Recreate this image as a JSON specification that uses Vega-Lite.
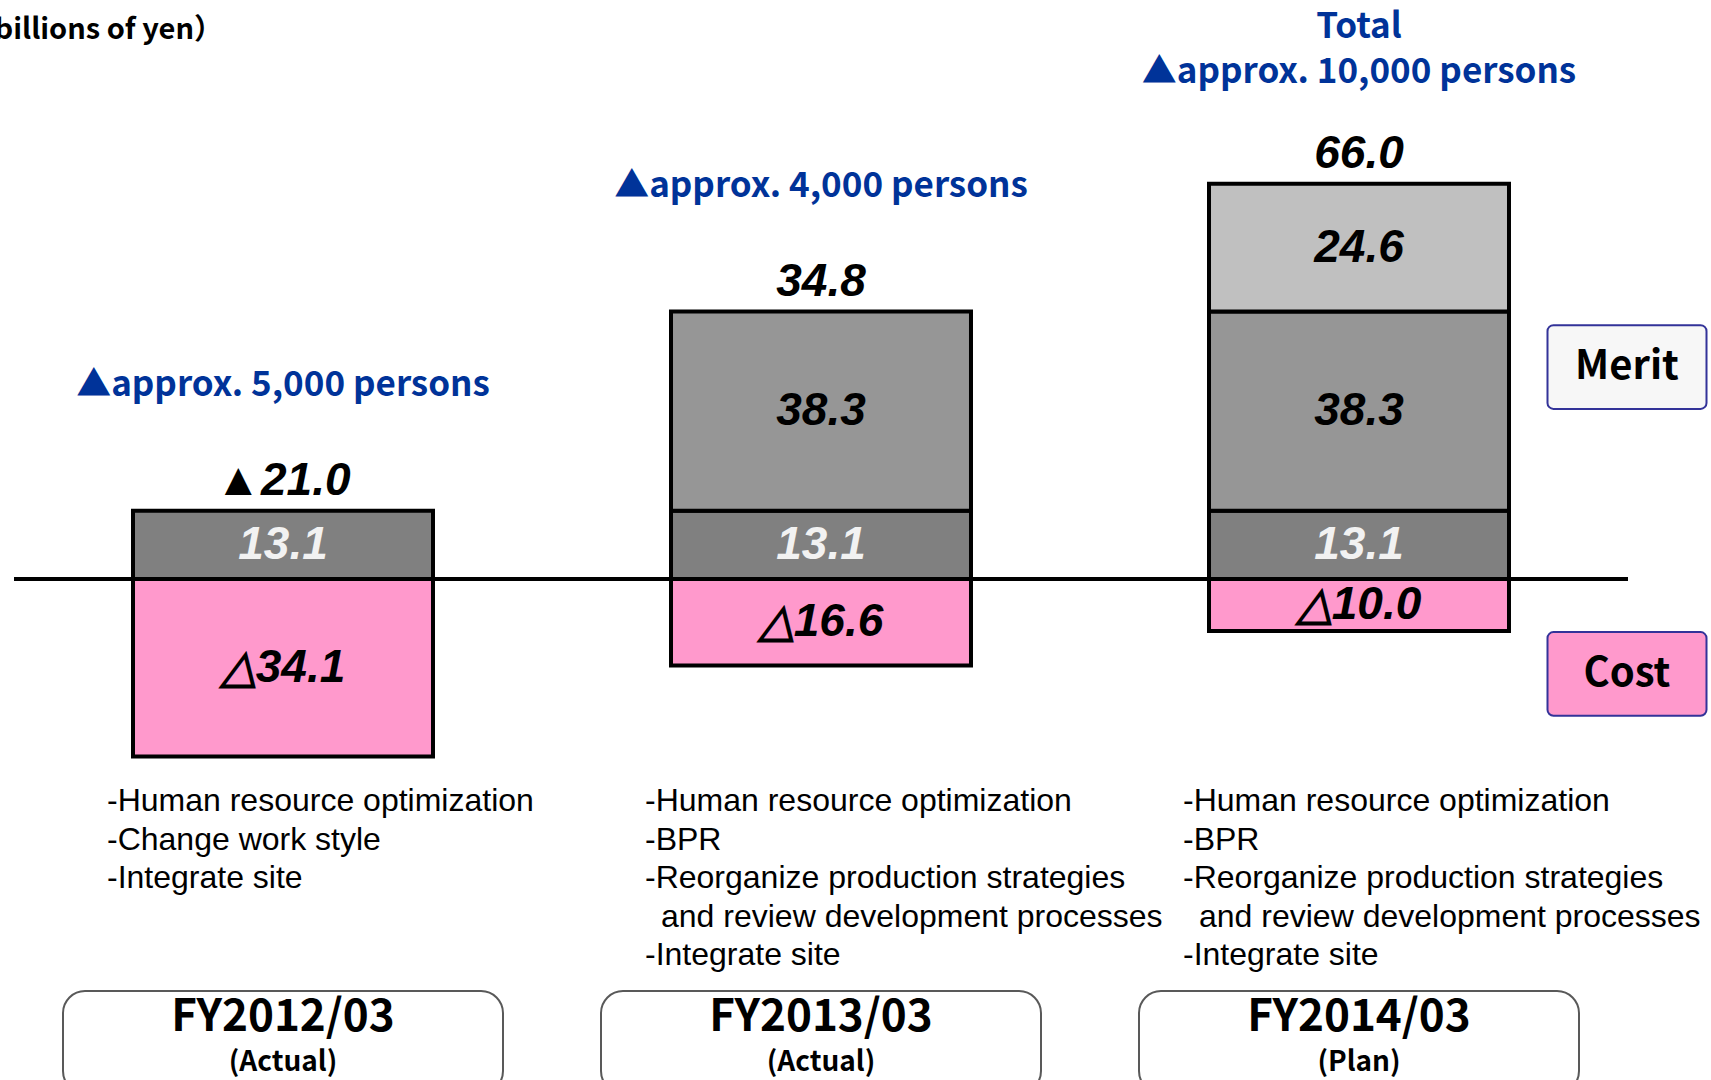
{
  "$schema": "https://vega.github.io/schema/vega-lite/v6.json",
  "width": 1711,
  "height": 1080,
  "autosize": {"type": "none"},
  "padding": 0,
  "background": "white",
  "config": {"view": {"stroke": null}},
  "datasets": {
    "bars": [
      {"fy": "FY2012/03", "seg": "base", "value": 13.1, "label": "13.1"},
      {"fy": "FY2012/03", "seg": "cost", "value": -34.1, "label": "△34.1"},
      {"fy": "FY2013/03", "seg": "base", "value": 13.1, "label": "13.1"},
      {"fy": "FY2013/03", "seg": "mid", "value": 38.3, "label": "38.3"},
      {"fy": "FY2013/03", "seg": "cost", "value": -16.6, "label": "△16.6"},
      {"fy": "FY2014/03", "seg": "base", "value": 13.1, "label": "13.1"},
      {"fy": "FY2014/03", "seg": "mid", "value": 38.3, "label": "38.3"},
      {"fy": "FY2014/03", "seg": "top", "value": 24.6, "label": "24.6"},
      {"fy": "FY2014/03", "seg": "cost", "value": -10.0, "label": "△10.0"}
    ],
    "totals": [
      {"fy": "FY2012/03", "net": -21.0, "total": "▲21.0", "persons": "▲approx. 5,000 persons"},
      {"fy": "FY2013/03", "net": 34.8, "total": "34.8", "persons": "▲approx. 4,000 persons"},
      {"fy": "FY2014/03", "net": 66.0, "total": "66.0", "persons": ["Total", "▲approx. 10,000 persons"]}
    ],
    "notes": [
      {"fy": "FY2012/03", "period": "(Actual)", "desc": ["-Human resource optimization", "-Change work style", "-Integrate site"]},
      {"fy": "FY2013/03", "period": "(Actual)", "desc": ["-Human resource optimization", "-BPR", "-Reorganize production strategies", "\u200b\u2002and review development processes", "-Integrate site"]},
      {"fy": "FY2014/03", "period": "(Plan)", "desc": ["-Human resource optimization", "-BPR", "-Reorganize production strategies", "\u200b\u2002and review development processes", "-Integrate site"]}
    ],
    "one": [{"k": 1}]
  },
  "layer": [
    {
      "data": {"name": "one"},
      "mark": {"type": "rule", "color": "black", "strokeWidth": 4, "xOffset": -119, "x2Offset": 119},
      "encoding": {
        "x": {"datum": "FY2012/03", "type": "nominal", "bandPosition": 0,
          "scale": {"type": "band", "domain": ["FY2012/03", "FY2013/03", "FY2014/03"], "range": [14, 1628], "paddingInner": 0.4424, "paddingOuter": 0.2212},
          "axis": null},
        "x2": {"datum": "FY2014/03", "bandPosition": 1},
        "y": {"datum": 0, "type": "quantitative", "scale": {"domain": [-96.3, 111.3], "nice": false, "zero": false}, "axis": null}
      }
    },
    {
      "data": {"name": "bars"},
      "transform": [
        {"stack": "value", "groupby": ["fy"], "sort": [{"field": "seg", "order": "ascending"}], "as": ["v0", "v1"], "offset": "zero"}
      ],
      "mark": {"type": "bar", "stroke": "black", "strokeWidth": 4},
      "encoding": {
        "x": {"field": "fy", "type": "nominal"},
        "y": {"field": "v0", "type": "quantitative"},
        "y2": {"field": "v1"},
        "color": {"field": "seg", "type": "nominal", "legend": null,
          "scale": {"domain": ["base", "mid", "top", "cost"], "range": ["#808080", "#969696", "#c0c0c0", "#ff99cc"]}}
      }
    },
    {
      "data": {"name": "bars"},
      "transform": [
        {"stack": "value", "groupby": ["fy"], "sort": [{"field": "seg", "order": "ascending"}], "as": ["v0", "v1"], "offset": "zero"},
        {"fold": ["v0", "v1"], "as": ["edge", "v"]},
        {"aggregate": [{"op": "mean", "field": "v", "as": "mid"}], "groupby": ["fy", "seg", "label"]}
      ],
      "mark": {"type": "text", "font": "Liberation Sans", "fontSize": 46, "fontWeight": "bold", "fontStyle": "italic", "baseline": "middle", "align": "center"},
      "encoding": {
        "x": {"field": "fy", "type": "nominal"},
        "y": {"field": "mid", "type": "quantitative"},
        "text": {"field": "label"},
        "color": {"condition": {"test": "datum.seg === 'base'", "value": "#f2f2f2"}, "value": "black"}
      }
    },
    {
      "data": {"name": "bars"},
      "transform": [
        {"filter": "datum.value > 0"},
        {"aggregate": [{"op": "sum", "field": "value", "as": "pos"}], "groupby": ["fy"]},
        {"lookup": "fy", "from": {"data": {"name": "totals"}, "key": "fy", "fields": ["total", "persons"]}}
      ],
      "layer": [
        {
          "mark": {"type": "text", "font": "Liberation Sans", "fontSize": 46, "fontWeight": "bold", "fontStyle": "italic", "baseline": "bottom", "align": "center", "dy": -6, "color": "black"},
          "encoding": {
            "x": {"field": "fy", "type": "nominal"},
            "y": {"field": "pos", "type": "quantitative"},
            "text": {"field": "total"}
          }
        },
        {
          "transform": [{"filter": "!isArray(datum.persons)"}],
          "mark": {"type": "text", "font": "Noto Sans CJK JP", "fontSize": 35, "fontWeight": "bold", "baseline": "bottom", "align": "center", "dy": -108, "color": "#003399"},
          "encoding": {
            "x": {"field": "fy", "type": "nominal"},
            "y": {"field": "pos", "type": "quantitative"},
            "text": {"field": "persons"}
          }
        },
        {
          "transform": [{"filter": "isArray(datum.persons)"}],
          "mark": {"type": "text", "font": "Noto Sans CJK JP", "fontSize": 35, "fontWeight": "bold", "baseline": "bottom", "align": "center", "dy": -139, "color": "#003399", "lineHeight": 45},
          "encoding": {
            "x": {"field": "fy", "type": "nominal"},
            "y": {"field": "pos", "type": "quantitative"},
            "text": {"field": "persons"}
          }
        }
      ]
    },
    {
      "data": {"name": "notes"},
      "mark": {"type": "text", "font": "Liberation Sans", "fontSize": 32, "baseline": "alphabetic", "align": "left", "dx": -26, "lineHeight": 38.5, "color": "black"},
      "encoding": {
        "x": {"field": "fy", "type": "nominal", "bandPosition": 0},
        "y": {"datum": -44.6},
        "text": {"field": "desc"}
      }
    },
    {
      "data": {"name": "notes"},
      "mark": {"type": "bar", "width": 440, "cornerRadius": 22, "fill": "white", "stroke": "#595959", "strokeWidth": 2},
      "encoding": {
        "x": {"field": "fy", "type": "nominal"},
        "y": {"datum": -79.2},
        "y2": {"datum": -98.8}
      }
    },
    {
      "data": {"name": "notes"},
      "mark": {"type": "text", "font": "Noto Sans CJK JP", "fontSize": 44, "fontWeight": "bold", "baseline": "middle", "align": "center", "color": "black"},
      "encoding": {
        "x": {"field": "fy", "type": "nominal"},
        "y": {"datum": -84.4},
        "text": {"field": "fy"}
      }
    },
    {
      "data": {"name": "notes"},
      "mark": {"type": "text", "font": "Noto Sans CJK JP", "fontSize": 28, "fontWeight": "bold", "baseline": "middle", "align": "center", "color": "black"},
      "encoding": {
        "x": {"field": "fy", "type": "nominal"},
        "y": {"datum": -93.0},
        "text": {"field": "period"}
      }
    },
    {
      "data": {"name": "one"},
      "mark": {"type": "bar", "width": 159, "xOffset": 268, "cornerRadius": 6, "fill": "#f7f7f7", "stroke": "#333399", "strokeWidth": 2},
      "encoding": {
        "x": {"datum": "FY2014/03", "type": "nominal"},
        "y": {"datum": 48.8},
        "y2": {"datum": 32.7}
      }
    },
    {
      "data": {"name": "one"},
      "mark": {"type": "text", "text": "Merit", "xOffset": 268, "font": "Noto Sans CJK JP", "fontSize": 40, "fontWeight": "bold", "baseline": "middle", "align": "center", "color": "black"},
      "encoding": {
        "x": {"datum": "FY2014/03", "type": "nominal"},
        "y": {"datum": 40.75}
      }
    },
    {
      "data": {"name": "one"},
      "mark": {"type": "bar", "width": 159, "xOffset": 268, "cornerRadius": 6, "fill": "#ff99cc", "stroke": "#333399", "strokeWidth": 2},
      "encoding": {
        "x": {"datum": "FY2014/03", "type": "nominal"},
        "y": {"datum": -10.2},
        "y2": {"datum": -26.3}
      }
    },
    {
      "data": {"name": "one"},
      "mark": {"type": "text", "text": "Cost", "xOffset": 268, "font": "Noto Sans CJK JP", "fontSize": 40, "fontWeight": "bold", "baseline": "middle", "align": "center", "color": "black"},
      "encoding": {
        "x": {"datum": "FY2014/03", "type": "nominal"},
        "y": {"datum": -18.3}
      }
    },
    {
      "data": {"name": "one"},
      "mark": {"type": "text", "text": "（billions of yen）", "xOffset": 90, "font": "Noto Sans CJK JP", "fontSize": 29, "fontWeight": "bold", "baseline": "middle", "align": "right", "color": "black"},
      "encoding": {
        "x": {"datum": "FY2012/03", "type": "nominal", "bandPosition": 0},
        "y": {"datum": 105.5}
      }
    }
  ]
}
